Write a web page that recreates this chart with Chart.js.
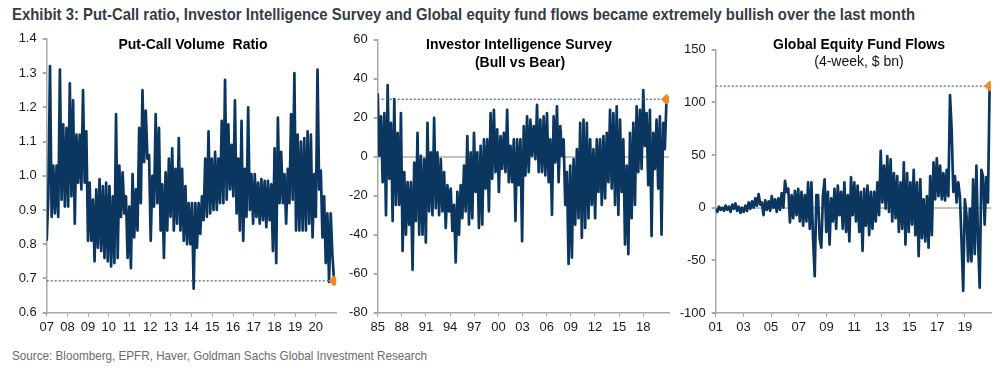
<!DOCTYPE html>
<html>
<head>
<meta charset="utf-8">
<script src="https://cdn.jsdelivr.net/npm/chart.js@4.4.0/dist/chart.umd.min.js"></script>
<style>
  body { margin: 0; width: 1006px; height: 377px; background: #fff; position: relative; overflow: hidden;
         font-family: "Liberation Sans", Arial, sans-serif; }
  canvas { position: absolute; }
  .txt { position: absolute; white-space: nowrap; line-height: 1; }
  .narrow { transform-origin: 0 0; }
  #mainTitle { left: 12px; top: 6px; font-weight: bold; font-size: 17px; color: #353b45; }
  #source { left: 12px; top: 349px; font-size: 13px; color: #6b6b6b; }
  .ptitle { font-weight: bold; font-size: 14px; color: #000; transform: translateX(-50%); }
  .psub { font-size: 14px; color: #111; transform: translateX(-50%); }
</style>
</head>
<body>
<div class="txt narrow" id="mainTitle" data-w="903">Exhibit 3: Put-Call ratio, Investor Intelligence Survey and Global equity fund flows became extremely bullish over the last month</div>

<canvas id="pcChart" width="345" height="315" style="left:0px; top:25px;"></canvas>
<canvas id="iiChart" width="335" height="315" style="left:340px; top:26px;"></canvas>
<canvas id="flowChart" width="331" height="305" style="left:675px; top:35.7px;"></canvas>

<div class="txt ptitle" style="left:193px; top:37px;">Put-Call Volume&nbsp; Ratio</div>
<div class="txt ptitle" style="left:519px; top:37px;">Investor Intelligence Survey</div>
<div class="txt ptitle" style="left:520px; top:55px;">(Bull vs Bear)</div>
<div class="txt ptitle" style="left:859px; top:37px;">Global Equity Fund Flows</div>
<div class="txt psub" style="left:859px; top:54px;">(4-week, $ bn)</div>

<div class="txt narrow" id="source" data-w="415">Source: Bloomberg, EPFR, Haver, Goldman Sachs Global Investment Research</div>

<script>
// Put-Call volume ratio, 2007 -> Nov 2020
const pcStart = 2007, pcEnd = 2020.88;
const pcTickYears = [2007, 2008, 2009, 2010, 2011, 2012, 2013, 2014, 2015, 2016, 2017, 2018, 2019, 2020];
const pcValues = [
  0.81, 0.94, 1.32, 0.88, 1.03, 0.89, 1.03, 0.88, 1.31, 0.93,
  1.15, 0.91, 1.14, 0.91, 1.27, 0.94, 1.22, 0.86, 1.12, 0.98,
  1.12, 0.96, 1.25, 0.98, 1.13, 0.81, 0.98, 0.81, 0.93, 0.75,
  0.96, 0.79, 0.99, 0.78, 0.97, 0.76, 0.98, 0.75, 0.97, 0.735,
  0.94, 0.745, 1.18, 0.76, 1.03, 0.88, 1.01, 0.89, 0.94, 0.76,
  0.91, 0.73, 1.005, 0.82, 0.96, 0.84, 1.14, 0.92, 1.25, 1.04,
  1.19, 1.05, 1.06, 0.81, 1.0, 0.91, 1.18, 0.92, 1.14, 0.84,
  0.975, 0.76, 1.01, 0.84, 1.05, 0.88, 1.08, 0.84, 1.02, 0.86,
  1.11, 0.84, 1.02, 0.81, 0.97, 0.80, 0.92, 0.80, 0.92, 0.67,
  0.92, 0.79, 0.92, 0.83, 0.94, 0.87, 1.05, 0.88, 1.13, 0.89,
  1.05, 0.90, 1.07, 0.90, 1.05, 0.92, 1.16, 0.92, 1.28, 0.93,
  1.15, 0.96, 1.09, 0.94, 1.22, 0.89, 1.05, 0.84, 1.16, 0.81,
  1.02, 0.88, 1.20, 0.90, 1.005, 0.86, 1.005, 0.88, 0.98, 0.86,
  0.99, 0.87, 0.985, 0.85, 0.985, 0.87, 0.975, 0.78, 1.08, 0.745,
  1.17, 0.92, 1.07, 0.92, 1.005, 0.86, 1.02, 0.92, 1.18, 0.93,
  1.30, 0.84, 1.12, 0.84, 1.10, 0.84, 1.11, 0.84, 1.13, 0.86,
  1.12, 0.82, 1.005, 0.88, 1.31, 0.96, 1.015, 0.82, 0.94, 0.745,
  0.89, 0.69, 0.89, 0.77, 0.693
];

// Investor Intelligence bull-bear spread, 1985 -> Nov 2020
const iiStart = 1985, iiEnd = 2020.89;
const iiTickYears = [1985, 1988, 1991, 1994, 1997, 2000, 2003, 2006, 2009, 2012, 2015, 2018];
const iiValues = [
  32.5, 0.5, 20.7, -13, 22.4, -30, 36.7, -11.3, 17.4, -33,
  29.6, -24.7, 12.3, -24.7, 22.4, -48.3, -7.9, -40, -13, -34.8,
  -13, -58, -3, -33, 12.3, -40, 0.5, -40, -1.2, -44,
  17.4, -28, 2.2, -30, 19.9, -26.4, 2.2, -30, -1.2, -28,
  -7.9, -36.5, -14.6, -28, -16.3, -38, -24.7, -54.2, -18, -40,
  -14.6, -31.5, -4.5, -28, 10.6, -34.8, 2.2, -31.5, 12.3, -18,
  2.2, -36.5, 5.6, -34.8, 8.9, -16.3, 8.9, -28, 22.4, -11.3,
  24.1, -7.9, 14, -18, 10.6, -6.2, 12.3, -7.9, 24.1, -13,
  5.6, -13, 8.9, -33, 8.9, -14.6, 8.9, -43.3, 15.7, -9.6,
  20.7, -7.9, 19, 0.5, 15.7, -1.2, 26.6, -7.9, 19, -7.9,
  20.7, -9.6, 22.4, -13, 8.9, -29.8, 20.7, -2.9, 25.8, -13,
  15.7, 0.5, 8.9, -24.7, -7.9, -55, -4.5, -51.7, -1.2, -34.8,
  3.9, -31.5, 17.4, -41.6, 19, -36.5, 17.4, -31.5, 8.9, -24.7,
  3.9, -31.5, 8.9, -18, 8.9, -24.7, 10.6, -21.4, 12.3, -13,
  24.1, -16.3, 22.4, -24.7, 25.8, -29.8, 19, -18, 8.9, -45,
  -4.5, -50, 12.3, -31.5, 17.4, -24.7, 25.8, -7.9, 24.1, -6.2,
  34.2, 5.6, 22.4, -14.6, 24.1, -40.7, 12.3, -6.2, 19, -16.3,
  20.7, -39.9, 17.4, 3.9, 29.5
];

// Global equity fund flows, 4-week sum in $bn, 2001 -> Oct 2020
const flowStart = 2001, flowEnd = 2020.78;
const flowTickYears = [2001, 2003, 2005, 2007, 2009, 2011, 2013, 2015, 2017, 2019];
const flowValues = [
  -1, -4, 1, -2, 0, -3, 2, -2, 1, -4,
  3, -1, 4, -3, 1, -5, 0, -4, 2, -3,
  5, -1, 6, 0, 9, 2, 13, 3, 5, -7,
  7, -2, 6, -3, 11, 0, 8, -4, 9, -2,
  14, 0, 25.6, 15, 18, -14, 12, -10, 16, -7,
  18, -13, 15, -17, 12, -13, 24, -20, 24, -29,
  -65, 12, 12, -29, -38, 12, 27, -23, 15, -35,
  9, -13, 18, -20, 21, -7, 15, -20, 24, -23,
  12, -32, 29, -7, 24, -13, 21, -23, 15, -41,
  18, -17, 21, -26, 15, -20, 15, -13, 24, -7,
  54, 5, 40, -1, 49, -4, 46, -13, 33, -10,
  30, -23, 24, -20, 43, -35, 33, -23, 24, -16,
  36, -26, 24, -46, 27, -29, 8, -32, 11, -38,
  30, -26, 43, 8, 47, 11, 40, 8, 33, 7,
  36, 11, 107, 74, 15, 30, 5, 24, 11, -32,
  -79, 8, -7, -51, -1, -51, 27, -44, 40, -32,
  -76, 36, 30, -16, 29, 5, 115.5
];

const navy = '#0a3660';
const orange = '#f5862b';
const axisGray = '#a8a8a8';

// squeeze the title and source text to the narrow face used in the original
document.querySelectorAll('.narrow').forEach(el => {
  const w = el.getBoundingClientRect().width;
  el.style.transform = 'scaleX(' + (Number(el.dataset.w) / w) + ')';
});

function points(start, end, vals) {
  const step = (end - start) / (vals.length - 1);
  return vals.map((v, i) => ({ x: start + i * step, y: v }));
}

function makePanel(id, cfg) {
  const last = cfg.values[cfg.values.length - 1];
  new Chart(id, {
    type: 'line',
    data: {
      datasets: [
        {
          data: [{ x: cfg.end, y: last }],
          showLine: false,
          pointStyle: 'rectRot',
          pointRadius: 5,
          backgroundColor: orange,
          borderColor: orange
        },
        {
          data: [{ x: cfg.xMin, y: last }, { x: cfg.end, y: last }],
          borderColor: '#3b6590',
          borderWidth: 1.2,
          borderDash: [2, 2],
          pointRadius: 0
        },
        {
          data: points(cfg.start, cfg.end, cfg.values),
          borderColor: navy,
          borderWidth: 2.7,
          borderJoinStyle: 'round',
          pointRadius: 0,
          tension: 0
        }
      ]
    },
    options: {
      responsive: false,
      animation: false,
      devicePixelRatio: 1,
      layout: { padding: { top: 10, right: cfg.padRight, left: 0, bottom: 0 } },
      plugins: { legend: { display: false }, tooltip: { enabled: false } },
      scales: {
        x: {
          type: 'linear',
          min: cfg.xMin,
          max: cfg.xMax,
          afterBuildTicks: (s) => { s.ticks = cfg.tickYears.map(v => ({ value: v })); },
          afterFit: (s) => { s.height = cfg.xHeight; },
          border: { color: axisGray, width: 1.5 },
          grid: { drawOnChartArea: false, tickLength: 4, tickColor: axisGray },
          ticks: {
            autoSkip: false, maxRotation: 0, padding: 3, color: '#1a1a1a',
            font: { family: 'Liberation Sans', size: 13 },
            callback: (v) => String(v).slice(2)
          }
        },
        y: {
          min: cfg.yMin,
          max: cfg.yMax,
          afterFit: (s) => { s.width = cfg.yWidth; },
          border: { color: axisGray, width: 1.5 },
          grid: {
            color: (ctx) => (cfg.zero && ctx.tick && ctx.tick.value === 0) ? '#c2c2c2' : 'rgba(0,0,0,0)',
            lineWidth: 2,
            tickLength: 4,
            tickColor: axisGray
          },
          ticks: {
            stepSize: cfg.yStep, padding: 6, color: '#1a1a1a',
            font: { family: 'Liberation Sans', size: 13 },
            callback: cfg.yFormat
          }
        }
      }
    }
  });
}

makePanel('pcChart', {
  values: pcValues, start: pcStart, end: pcEnd, tickYears: pcTickYears,
  xMin: 2007, xMax: 2020.99, yMin: 0.6, yMax: 1.4, yStep: 0.1,
  yFormat: (v) => v.toFixed(1), zero: false,
  yWidth: 46.7, xHeight: 27.3, padRight: 8.7
});

makePanel('iiChart', {
  values: iiValues, start: iiStart, end: iiEnd, tickYears: iiTickYears,
  xMin: 1985, xMax: 2021.2, yMin: -80, yMax: 60, yStep: 20,
  yFormat: (v) => String(v), zero: true,
  yWidth: 37.7, xHeight: 28.3, padRight: 5.2
});

makePanel('flowChart', {
  values: flowValues, start: flowStart, end: flowEnd, tickYears: flowTickYears,
  xMin: 2001, xMax: 2020.88, yMin: -100, yMax: 150, yStep: 50,
  yFormat: (v) => String(v), zero: true,
  yWidth: 40.7, xHeight: 28, padRight: 15
});
</script>
</body>
</html>
